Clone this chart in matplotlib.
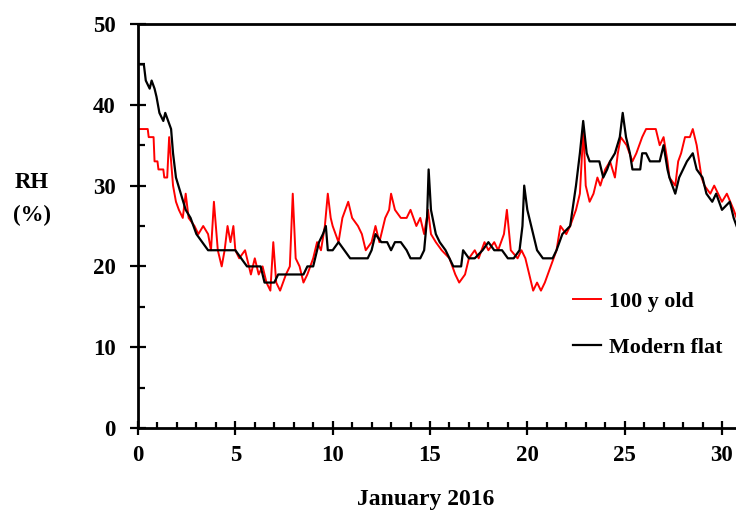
import matplotlib
matplotlib.use("Agg")
import matplotlib.pyplot as plt
from matplotlib.ticker import MultipleLocator

# Day of January 2016 and RH (%) — Modern flat
t_mod = [0, 0.3, 0.4, 0.6, 0.7, 0.85, 0.95, 1.1, 1.3, 1.4,
         1.55, 1.7, 1.8, 1.95, 2.2, 2.45, 2.7, 3.0, 3.3, 3.6,
         4.0, 4.5, 5.0, 5.3, 5.6, 6.0, 6.3, 6.5, 6.8, 7.0,
         7.2, 7.6, 8.0, 8.5, 8.7, 9.0, 9.1, 9.3, 9.5, 9.65,
         9.75, 10.0, 10.3, 10.6, 10.9, 11.2, 11.5, 11.8, 12.0, 12.2,
         12.5, 12.8, 13.0, 13.2, 13.5, 13.8, 14.0, 14.3, 14.5, 14.7,
         14.85, 14.93, 15.05, 15.3, 15.5, 15.8, 16.0, 16.2, 16.4, 16.6,
         16.7, 17.0, 17.3, 17.7, 18.0, 18.3, 18.7, 19.0, 19.3, 19.6,
         19.75, 19.84, 20.0, 20.3, 20.5, 20.8, 21.0, 21.3, 21.5, 21.8,
         22.2, 22.5, 22.7, 22.87, 23.05, 23.2, 23.7, 23.9, 24.1, 24.25,
         24.5, 24.75, 24.9, 25.07, 25.27, 25.4, 25.8, 25.9, 26.1, 26.3,
         26.8, 27.0, 27.2, 27.3, 27.6, 27.8, 28.0, 28.2, 28.5, 28.7,
         29.0, 29.2, 29.5, 29.7, 30.0, 30.4, 30.6, 30.75]
rh_mod = [45, 45, 43, 42, 43, 42, 41, 39, 38, 39,
          38, 37, 34, 31, 29, 27, 26, 24, 23, 22,
          22, 22, 22, 21, 20, 20, 20, 18, 18, 18,
          19, 19, 19, 19, 20, 20, 21, 23, 24, 25,
          22, 22, 23, 22, 21, 21, 21, 21, 22, 24,
          23, 23, 22, 23, 23, 22, 21, 21, 21, 22,
          26, 32, 27, 24, 23, 22, 21, 20, 20, 20,
          22, 21, 21, 22, 23, 22, 22, 21, 21, 22,
          25, 30, 27, 24, 22, 21, 21, 21, 22, 24,
          25, 30, 34, 38, 34, 33, 33, 31, 32, 33,
          34, 36, 39, 36, 34, 32, 32, 34, 34, 33,
          33, 35, 32, 31, 29, 31, 32, 33, 34, 32,
          31, 29, 28, 29, 27, 28, 26, 25]

# 100 y old
t_old = [0, 0.5, 0.55, 0.8, 0.85, 1.0, 1.05, 1.3, 1.35, 1.5,
         1.6, 1.8, 1.95, 2.1, 2.3, 2.45, 2.6, 2.9, 3.1, 3.35,
         3.6, 3.75, 3.9, 4.1, 4.3, 4.45, 4.6, 4.75, 4.9, 5.0,
         5.2, 5.5, 5.8, 6.0, 6.2, 6.4, 6.6, 6.8, 6.95, 7.1,
         7.3, 7.6, 7.8, 7.95, 8.1, 8.3, 8.5, 8.7, 9.0, 9.2,
         9.4, 9.6, 9.75, 9.9, 10.0, 10.3, 10.5, 10.8, 11.0, 11.3,
         11.5, 11.7, 12.0, 12.2, 12.4, 12.7, 12.9, 13.0, 13.2, 13.5,
         13.8, 14.0, 14.3, 14.5, 14.7, 14.9, 15.05, 15.3, 15.6, 16.0,
         16.3, 16.5, 16.8, 17.0, 17.3, 17.5, 17.8, 18.0, 18.3, 18.5,
         18.8, 18.95, 19.15, 19.5, 19.7, 19.9, 20.1, 20.3, 20.5, 20.7,
         20.9, 21.2, 21.5, 21.7, 22.0, 22.2, 22.5, 22.7, 22.88, 23.0,
         23.2, 23.4, 23.6, 23.75, 24.0, 24.25, 24.5, 24.65, 24.8, 25.1,
         25.4, 25.6, 25.9, 26.1, 26.6, 26.8, 27.0, 27.2, 27.3, 27.6,
         27.75, 27.9, 28.1, 28.35, 28.5, 28.7, 28.95, 29.1, 29.4, 29.6,
         29.8, 30.0, 30.25, 30.6, 30.75]
rh_old = [37, 37, 36, 36, 33, 33, 32, 32, 31, 31,
          36, 30, 28, 27, 26, 29, 26, 25, 24, 25,
          24, 22, 28, 22, 20, 22, 25, 23, 25, 22,
          21, 22, 19, 21, 19, 20, 18, 17, 23, 18,
          17, 19, 20, 29, 21, 20, 18, 19, 21, 23,
          22, 25, 29, 26, 25, 23, 26, 28, 26, 25,
          24, 22, 23, 25, 23, 26, 27, 29, 27, 26,
          26, 27, 25, 26, 24, 27, 24, 23, 22, 21,
          19, 18, 19, 21, 22, 21, 23, 22, 23, 22,
          24, 27, 22, 21, 22, 21, 19, 17, 18, 17,
          18, 20, 22, 25, 24, 25, 27, 29, 37, 30,
          28, 29, 31, 30, 32, 33, 31, 34, 36, 35,
          33, 34, 36, 37, 37, 35, 36, 33, 31, 30,
          33, 34, 36, 36, 37, 35, 31, 30, 29, 30,
          29, 28, 29, 27, 26]

series_labels = ["100 y old", "Modern flat"]
x_ticks = [0, 5, 10, 15, 20, 25, 30]
y_ticks = [0, 10, 20, 30, 40, 50]

FONT = "Liberation Serif"
FS = 16.5
plt.rcParams["font.family"] = FONT
plt.rcParams["font.weight"] = "bold"

fig = plt.figure(figsize=(7.36, 5.16), dpi=100)
ax = fig.add_axes([138/736, 1 - 428/516, (736 - 138)/736, (428 - 24)/516])

ax.plot(t_old, rh_old, color="#ff0000", lw=1.4, label=series_labels[0], zorder=2)
ax.plot(t_mod, rh_mod, color="black", lw=1.6, label=series_labels[1], zorder=3)

ax.set_xlim(0, 30.72)
ax.set_ylim(0, 50)
ax.set_xticks(x_ticks)
ax.set_yticks(y_ticks)
ax.xaxis.set_minor_locator(MultipleLocator(1))
ax.yaxis.set_minor_locator(MultipleLocator(5))

for s in ["left", "bottom", "top"]:
    ax.spines[s].set_linewidth(2.0)
ax.spines["right"].set_visible(False)

ax.tick_params(axis="x", which="major", direction="inout", length=10, width=1.6,
               labelsize=FS, pad=7)
ax.tick_params(axis="x", which="minor", direction="in", length=4, width=1.6)
ax.tick_params(axis="y", which="major", direction="inout", length=12, width=1.6,
               labelsize=FS, pad=10)
ax.tick_params(axis="y", which="minor", direction="in", length=5, width=1.6)
for lab in ax.get_xticklabels() + ax.get_yticklabels():
    lab.set_fontweight("bold")

fig.text(426/736, 1 - 500/516, "January 2016", ha="center", va="center",
         fontsize=FS + 0.5, fontweight="bold")
fig.text(32/736, 1 - 183/516, "RH", ha="center", va="center",
         fontsize=FS, fontweight="bold")
fig.text(32/736, 1 - 215/516, "(%)", ha="center", va="center",
         fontsize=FS, fontweight="bold")

leg = ax.legend(loc="upper left", bbox_to_anchor=(564/736, 1 - 283/516),
                bbox_transform=fig.transFigure, frameon=False,
                prop={"family": FONT, "weight": "bold", "size": 15.8},
                handlelength=1.3, handletextpad=0.35, labelspacing=1.15,
                borderaxespad=0)

fig.savefig("out.png", dpi=100)
